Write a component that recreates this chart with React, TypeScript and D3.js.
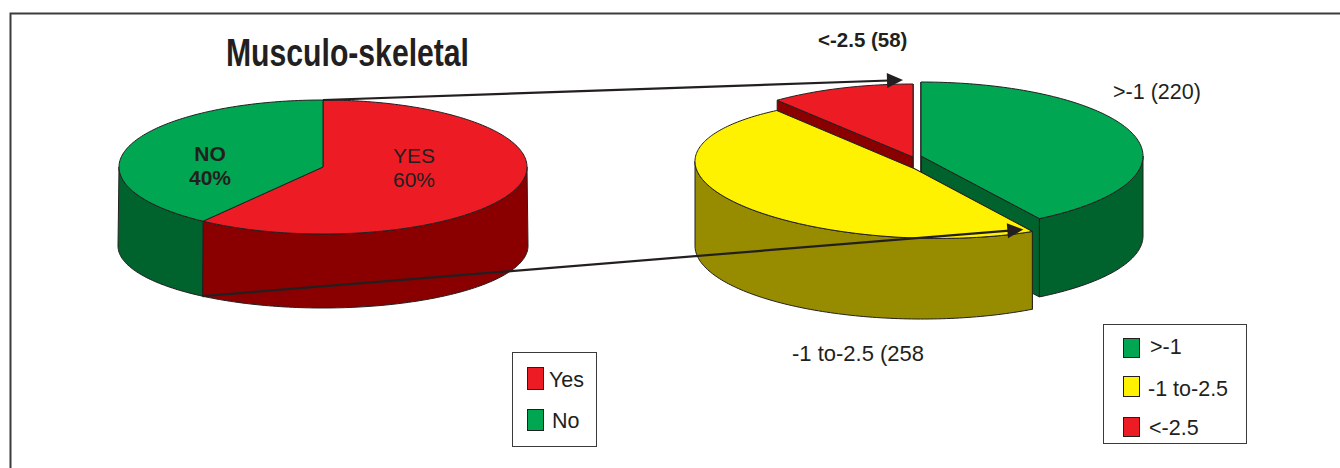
import React from "react";
import * as d3 from "d3";

// Screening outcome: musculo-skeletal complaint yes / no
const complaintLabels = ["Yes", "No"];
const complaintShares = [60, 40];

// T-score bands among those with a complaint
const bandLabels = [">-1", "-1 to-2.5", "<-2.5"];
const bandCounts = [220, 258, 58];

const INK = "#231f20";
const FONT = "'Liberation Sans', Arial, sans-serif";
const GREEN = "#00a651";
const GREEN_DARK = "#00632e";
const RED = "#ed1c24";
const RED_DARK = "#8a0000";
const YELLOW = "#fff200";
const OLIVE = "#978c00";

const complaintFill = [RED, GREEN];
const complaintWall = [RED_DARK, GREEN_DARK];
const bandFill = [GREEN, YELLOW, RED];
const bandWall = [GREEN_DARK, OLIVE, RED_DARK];

type Disc = {
  cx: number;
  cy: number;
  rx: number;
  ry: number;
  depth: number;
  floorRy: number;
  floorWiden: number;
  shear: number;
  floorShear: number;
};

const line = d3.line<[number, number]>();

// Projects a pie angle (clockwise from 12 o'clock) on to the tilted disc.
function project(d: Disc, a: number, floor = false): [number, number] {
  const rx = d.rx + (floor ? d.floorWiden : 0);
  const ry = floor ? d.floorRy : d.ry;
  const dx = rx * Math.sin(a);
  const shear = floor ? d.floorShear : d.shear;
  return [d.cx + dx, d.cy + (floor ? d.depth : 0) - ry * Math.cos(a) + shear * dx];
}

function arcAngles(a0: number, a1: number): number[] {
  const n = Math.max(2, Math.ceil((a1 - a0) / 0.02));
  return d3.range(n + 1).map((i) => a0 + ((a1 - a0) * i) / n);
}

function Wedge({
  disc,
  a0,
  a1,
  fill,
  wall,
  exploded,
}: {
  disc: Disc;
  a0: number;
  a1: number;
  fill: string;
  wall: string;
  exploded: boolean;
}) {
  const apex: [number, number] = [disc.cx, disc.cy];
  const apexFloor: [number, number] = [disc.cx, disc.cy + disc.depth];
  const top = arcAngles(a0, a1).map((a) => project(disc, a));

  // Only the part of the rim facing the viewer has a visible wall.
  const frontFrom = Math.max(a0, Math.PI / 2);
  const frontTo = Math.min(a1, (3 * Math.PI) / 2);
  const front = frontFrom < frontTo ? arcAngles(frontFrom, frontTo) : [];
  const rimWall = [
    ...front.map((a) => project(disc, a)),
    ...front.slice().reverse().map((a) => project(disc, a, true)),
  ];

  // Cut faces exposed where a slice is pulled away from its neighbours.
  const faceAt = (a: number): [number, number][] => [apex, project(disc, a), project(disc, a, true), apexFloor];
  const stroke = { stroke: INK, strokeWidth: 1, strokeLinejoin: "round" as const };

  return (
    <g>
      {exploded && <path d={line(faceAt(a1)) + "Z"} fill={wall} {...stroke} />}
      {exploded && <path d={line(faceAt(a0)) + "Z"} fill={wall} {...stroke} />}
      {front.length > 0 && <path d={line(rimWall) + "Z"} fill={wall} {...stroke} />}
      <path d={line([apex, ...top]) + "Z"} fill={fill} {...stroke} />
    </g>
  );
}

function Arrow({ from, to, id }: { from: [number, number]; to: [number, number]; id: string }) {
  const len = Math.hypot(to[0] - from[0], to[1] - from[1]);
  const deg = (Math.atan2(to[1] - from[1], to[0] - from[0]) * 180) / Math.PI;
  const head = 16;
  const half = 7.5;
  return (
    <g key={id} transform={`translate(${from[0]},${from[1]}) rotate(${deg})`}>
      <line x1={0} y1={0} x2={len - head + 2} y2={0} stroke={INK} strokeWidth={2.2} />
      <path d={`M${len},0L${len - head},${-half}L${len - head},${half}Z`} fill={INK} />
    </g>
  );
}

function Legend({
  box,
  rows,
}: {
  box: [number, number, number, number];
  rows: { label: string; fill: string; swatch: [number, number, number, number]; tx: number; ty: number }[];
}) {
  return (
    <g>
      <rect x={box[0]} y={box[1]} width={box[2]} height={box[3]} fill="#fff" stroke="#3a3a3a" strokeWidth={1} />
      {rows.map((r) => (
        <g key={r.label}>
          <rect x={r.swatch[0]} y={r.swatch[1]} width={r.swatch[2]} height={r.swatch[3]} fill={r.fill} stroke={INK} strokeWidth={1} />
          <text x={r.tx} y={r.ty} fontSize={21.5} fill={INK}>
            {r.label}
          </text>
        </g>
      ))}
    </g>
  );
}

export default function App() {
  const pie = d3.pie<number>().sort(null);
  const complaintArcs = pie(complaintShares);
  const bandArcs = pie(bandCounts);

  const complaintDisc: Disc = { cx: 323, cy: 167, rx: 204, ry: 67, depth: 79, floorRy: 62, floorWiden: 1, shear: 0, floorShear: 0 };
  // The exploded slices each sit on their own displaced disc.
  const bandDiscs: Disc[] = [
    { cx: 921, cy: 156, rx: 222, ry: 74, depth: 80, floorRy: 72, floorWiden: 0, shear: 0, floorShear: 0 },
    { cx: 915, cy: 169, rx: 220, ry: 69, depth: 79, floorRy: 71, floorWiden: 0, shear: 0.035, floorShear: 0.01 },
    { cx: 913, cy: 157, rx: 216, ry: 73, depth: 79, floorRy: 73, floorWiden: 0, shear: 0, floorShear: 0 },
  ];

  const splitPoint = project(complaintDisc, complaintArcs[0].endAngle, true);
  const bandSplitPoint = project(bandDiscs[1], bandArcs[1].startAngle);

  return (
    <svg
      width={1340}
      height={468}
      viewBox="0 0 1340 468"
      fontFamily={FONT}
      style={{ position: "fixed", left: 0, top: 0, background: "#fff" }}
    >
      <path d="M10.5,468V13.5H1340" fill="none" stroke="#3c3c3c" strokeWidth={2} />

      <text
        x={226}
        y={66}
        fontSize={38}
        fontWeight={700}
        fill={INK}
        textLength={243}
        lengthAdjust="spacingAndGlyphs"
      >
        Musculo-skeletal
      </text>

      {complaintArcs.map((arc, i) => (
        <Wedge
          key={complaintLabels[i]}
          disc={complaintDisc}
          a0={arc.startAngle}
          a1={arc.endAngle}
          fill={complaintFill[i]}
          wall={complaintWall[i]}
          exploded={false}
        />
      ))}
      <text fill={INK} fontSize={21} textAnchor="middle">
        <tspan x={414} y={163}>YES</tspan>
        <tspan x={414} y={187}>{complaintShares[0]}%</tspan>
      </text>
      <text fill={INK} fontSize={21} fontWeight={700} textAnchor="middle">
        <tspan x={210} y={161}>NO</tspan>
        <tspan x={210} y={185}>{complaintShares[1]}%</tspan>
      </text>

      {/* Breakdown pie: yellow goes last because it overlaps both neighbours' cut faces */}
      {[0, 2, 1].map((i) => (
        <Wedge
          key={bandLabels[i]}
          disc={bandDiscs[i]}
          a0={bandArcs[i].startAngle}
          a1={bandArcs[i].endAngle}
          fill={bandFill[i]}
          wall={bandWall[i]}
          exploded={true}
        />
      ))}

      <Arrow id="upper" from={[complaintDisc.cx, complaintDisc.cy - complaintDisc.ry]} to={[903, 80]} />
      <Arrow id="lower" from={splitPoint} to={[bandSplitPoint[0] - 9, bandSplitPoint[1] - 2]} />

      <text x={818} y={47} fontSize={20.5} fontWeight={700} fill={INK}>
        {`${bandLabels[2]} (${bandCounts[2]})`}
      </text>
      <text x={1113} y={99} fontSize={21.5} fill={INK}>
        {`${bandLabels[0]} (${bandCounts[0]})`}
      </text>
      <text x={792} y={361} fontSize={22} fill={INK}>
        {`${bandLabels[1]} (${bandCounts[1]}`}
      </text>

      <Legend
        box={[512.5, 352.5, 84, 94]}
        rows={[
          { label: complaintLabels[0], fill: complaintFill[0], swatch: [527.5, 367.5, 16, 22], tx: 549, ty: 387 },
          { label: complaintLabels[1], fill: complaintFill[1], swatch: [527.5, 409.5, 16, 21], tx: 552, ty: 428 },
        ]}
      />
      <Legend
        box={[1103.5, 324.5, 143, 119]}
        rows={[
          { label: bandLabels[0], fill: bandFill[0], swatch: [1123.5, 338.5, 16, 19], tx: 1150, ty: 354 },
          { label: bandLabels[1], fill: bandFill[1], swatch: [1123.5, 376.5, 16, 20], tx: 1148, ty: 396 },
          { label: bandLabels[2], fill: bandFill[2], swatch: [1123.5, 417.5, 16, 19], tx: 1149, ty: 435 },
        ]}
      />
    </svg>
  );
}
